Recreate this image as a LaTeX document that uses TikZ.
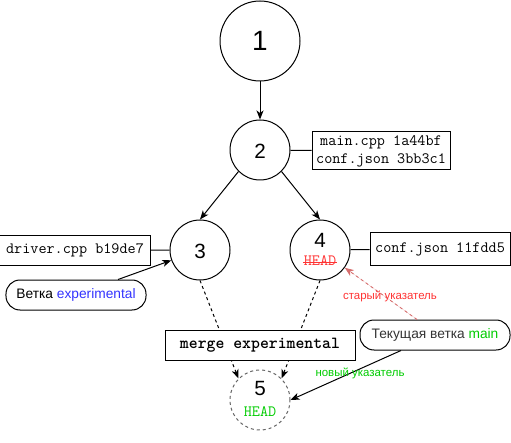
\documentclass[tikz,border=0pt]{standalone}
\usepackage{fontspec}
\setmainfont{Liberation Sans}
\usetikzlibrary{arrows.meta}

\definecolor{expblue}{RGB}{51,51,255}
\definecolor{maingreen}{RGB}{0,204,0}
\definecolor{oldred}{RGB}{255,51,51}
\definecolor{oldarrow}{RGB}{214,110,110}
\definecolor{darktext}{RGB}{51,51,51}

\tikzset{
  commit/.style={circle, draw, minimum size=60bp, inner sep=0pt},
  filebox/.style={draw, fill=white, inner sep=0pt, font=\fontsize{15.8}{18}\selectfont\ttfamily, align=center},
  branchbox/.style={draw, rounded corners=14bp, inner sep=0pt, font=\fontsize{13.8}{16}\selectfont},
  num/.style={font=\fontsize{20.7}{22}\selectfont, inner sep=0pt},
  headlbl/.style={font=\fontsize{15.8}{16}\selectfont\ttfamily, inner sep=0pt},
  note/.style={font=\fontsize{11.5}{13}\selectfont, inner sep=0pt}
}

\begin{document}
\begin{tikzpicture}[x=1bp, y=-1bp, line width=1bp, >={Stealth[length=9bp,width=7bp,inset=2.5bp]}]
    \useasboundingbox (0,0) rectangle (511,443);

    % Коммиты
    \node[commit, minimum size=80bp, font=\fontsize{28}{30}\selectfont] (n1) at (260,41) {1};
    \node[commit] (n2) at (260,150) {};
    \node[num] (t2) at (260,151) {2};
    \node[commit] (n3) at (200,250) {};
    \node[num] (t3) at (200,251) {3};
    \node[commit] (n4) at (320,250) {};
    \node[num] (t4) at (320,240) {4};
    \node[headlbl, text=oldred] (h4) at (320,261) {HEAD};
    \draw[oldred, line width=0.8bp] ([yshift=-1bp]h4.west) -- ([yshift=-1bp]h4.east);
    \node[commit, draw=black!60, dash pattern=on 3bp off 3bp] (n5) at (260,400) {};
    \node[num] (t5) at (260,389) {5};
    \node[headlbl, text=maingreen] (h5) at (260,412) {HEAD};

    % Связи между коммитами
    \draw[->] (n1) -- (n2);
    \draw[->] (n2.south west) -- (n3.north);
    \draw[->] (n2.south east) -- (n4.north);
    \draw[->, dash pattern=on 3bp off 3bp] (n3.south) -- (n5.north west);
    \draw[->, dash pattern=on 3bp off 3bp] (n4.south) -- (n5.north east);

    % Изменённые файлы
    \node[filebox, minimum width=138bp, minimum height=38bp] (f2) at (381,151) {main.cpp 1a44bf\\conf.json 3bb3c1};
    \node[filebox, minimum width=150bp, minimum height=29bp] (f3) at (75,250.5) {driver.cpp b19de7};
    \node[filebox, minimum width=140bp, minimum height=32bp] (f4) at (440,249) {conf.json 11fdd5};
    \draw (n2) -- (f2);
    \draw (n3) -- (f3);
    \draw (n4) -- (f4);

    % Слияние
    \node[filebox, minimum width=190bp, minimum height=30bp, font=\fontsize{17}{19}\selectfont\ttfamily\bfseries] (merge) at (260,345) {merge experimental};

    % Ветки
    \node[branchbox, minimum width=140bp, minimum height=30bp] (exp) at (76,295) {Ветка \textcolor{expblue}{experimental}};
    \node[branchbox, minimum width=150bp, minimum height=30bp, text=darktext] (cur) at (435,335) {Текущая ветка \textcolor{maingreen}{main}};
    \draw[->] ([xshift=42bp]exp.north) -- (n3);
    \draw[->, draw=oldarrow, fill=oldarrow, line width=0.9bp, dash pattern=on 3bp off 3bp] ([xshift=-18bp]cur.north) -- (n4);
    \draw[->] ([xshift=-34bp]cur.south) -- (n5.east);

    % Подписи указателей
    \node[note, text=oldred] (old) at (390,296) {старый указатель};
    \node[note, text=maingreen] (new) at (360,373) {новый указатель};

\end{tikzpicture}
\end{document}
